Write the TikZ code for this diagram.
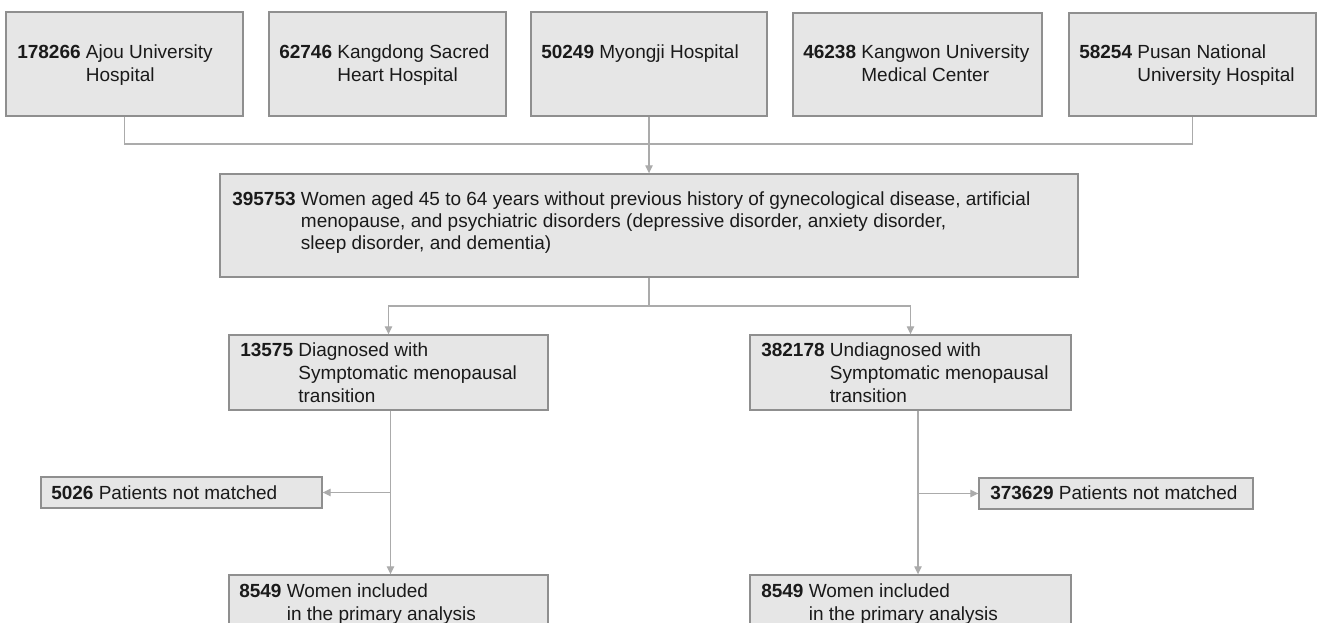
\documentclass[tikz,border=0pt]{standalone}
\usepackage{fontspec}
\setmainfont{Liberation Sans}
\usetikzlibrary{arrows.meta,fit,calc}
\definecolor{boxfill}{HTML}{E6E6E6}
\definecolor{boxline}{HTML}{8F8F8F}
\definecolor{connc}{HTML}{ABABAB}
\definecolor{ink}{HTML}{1A1A1A}
\begin{document}
\begin{tikzpicture}[x=0.75pt,y=-0.75pt,
  box/.style={draw=boxline, fill=boxfill, line width=1pt, inner sep=0pt},
  txt/.style={inner sep=0pt, anchor=base west, text=ink, font=\fontsize{14.25pt}{17.25pt}\selectfont},
  connl/.style={draw=connc, line width=0.9pt},
  arr/.style={connl, -{Triangle[length=6pt,width=5.5pt]}}]
\clip (0,0) rectangle (1317,623);
\fill[white] (0,0) rectangle (1317,623);
% boxes
\node[box, fit={(6,12) (243,116)}] (b1) {};
\node[box, fit={(269,12) (506,116)}] (b2) {};
\node[box, fit={(531,12) (767,116)}] (b3) {};
\node[box, fit={(793,13) (1042,116)}] (b4) {};
\node[box, fit={(1069,13) (1316,116)}] (b5) {};
\node[box, fit={(220,174) (1078,277)}] (main) {};
\node[box, fit={(229,335) (548,410)}] (m1) {};
\node[box, fit={(750,335) (1071,410)}] (m2) {};
\node[box, fit={(41,477) (322,508)}] (e1) {};
\node[box, fit={(979,478) (1253,509)}] (e2) {};
\node[box, fit={(229,575) (548,650)}] (f1) {};
\node[box, fit={(750,575) (1071,650)}] (f2) {};
% texts
\node[txt] (t1) at (17,59) {\begin{tabular}[t]{@{}l@{ }l@{}}\textbf{178266} & Ajou University\\ & Hospital\end{tabular}};
\node[txt] (t2) at (279,59) {\begin{tabular}[t]{@{}l@{ }l@{}}\textbf{62746} & Kangdong Sacred\\ & Heart Hospital\end{tabular}};
\node[txt] (t3) at (541,59) {\begin{tabular}[t]{@{}l@{ }l@{}}\textbf{50249} & Myongji Hospital\end{tabular}};
\node[txt] (t4) at (803,59) {\begin{tabular}[t]{@{}l@{ }l@{}}\textbf{46238} & Kangwon University\\ & Medical Center\end{tabular}};
\node[txt] (t5) at (1079,59) {\begin{tabular}[t]{@{}l@{ }l@{}}\textbf{58254} & Pusan National\\ & University Hospital\end{tabular}};
\node[txt, font=\fontsize{14.25pt}{16.5pt}\selectfont] (tm) at (232,206) {\begin{tabular}[t]{@{}l@{ }l@{}}\textbf{395753} & Women aged 45 to 64 years without previous history of gynecological disease, artificial\\ & menopause, and psychiatric disorders (depressive disorder, anxiety disorder,\\ & sleep disorder, and dementia)\end{tabular}};
\node[txt] (tm1) at (240,357) {\begin{tabular}[t]{@{}l@{ }l@{}}\textbf{13575} & Diagnosed with\\ & Symptomatic menopausal\\ & transition\end{tabular}};
\node[txt] (tm2) at (761,357) {\begin{tabular}[t]{@{}l@{ }l@{}}\textbf{382178} & Undiagnosed with\\ & Symptomatic menopausal\\ & transition\end{tabular}};
\node[txt] (te1) at (51,499) {\begin{tabular}[t]{@{}l@{ }l@{}}\textbf{5026} & Patients not matched\end{tabular}};
\node[txt] (te2) at (990,499) {\begin{tabular}[t]{@{}l@{ }l@{}}\textbf{373629} & Patients not matched\end{tabular}};
\node[txt] (tf1) at (239,597) {\begin{tabular}[t]{@{}l@{ }l@{}}\textbf{8549} & Women included\\ & in the primary analysis\end{tabular}};
\node[txt] (tf2) at (761,597) {\begin{tabular}[t]{@{}l@{ }l@{}}\textbf{8549} & Women included\\ & in the primary analysis\end{tabular}};
% connectors
\coordinate (jt) at (649,144);
\draw[connl] (b1.south) |- (jt) -| (b5.south);
\draw[arr] (b3.south) -- (main.north);
\coordinate (jm) at (649,306);
\draw[connl] (main.south) -- (jm);
\draw[arr] (jm) -| (m1.north);
\draw[arr] (jm) -| (m2.north);
\coordinate (d1) at ($(m1.south)+(2,0)$);
\draw[arr] (d1) -- (d1 |- f1.north);
\draw[arr] (d1 |- e1.east) -- (e1.east);
\coordinate (d2) at ($(m2.south)+(7.5,0)$);
\draw[arr] (d2) -- (d2 |- f2.north);
\draw[arr] (d2 |- e2.west) -- (e2.west);
\end{tikzpicture}
\end{document}
